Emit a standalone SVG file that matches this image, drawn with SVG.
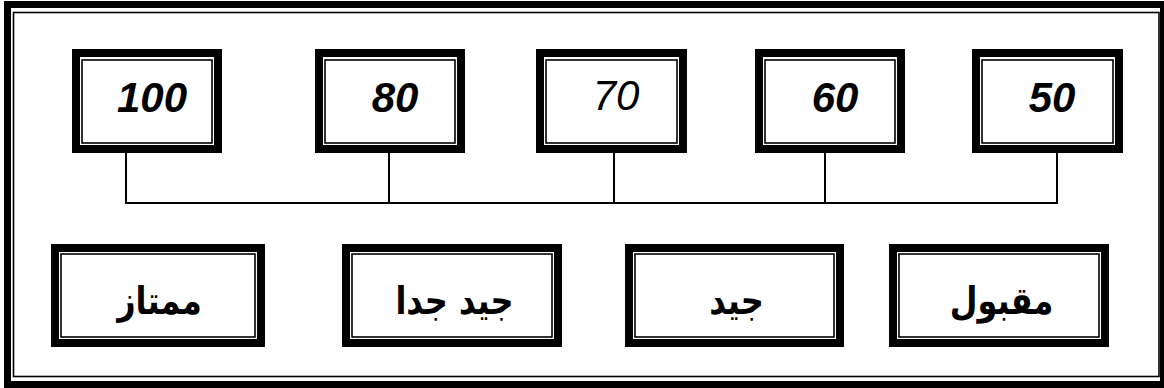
<svg xmlns="http://www.w3.org/2000/svg" width="1164" height="388" viewBox="0 0 1164 388">
<style>
.thick{fill:#fff;stroke:#000;stroke-width:8}
.thin{fill:none;stroke:#000;stroke-width:1.6}
.num{font-family:"Liberation Sans",Arial,sans-serif;font-style:italic;font-size:42px;text-anchor:middle;fill:#000}
.b{font-weight:bold}
.ar{font-family:"DejaVu Sans","Noto Sans",sans-serif;font-weight:bold;font-size:32px;text-anchor:middle;fill:#000}
.conn{fill:none;stroke:#000;stroke-width:2}
</style>
<rect width="1164" height="388" fill="#fff"/>
<g id="frame">
<rect x="7.5" y="4.5" width="1156" height="380" fill="none" stroke="#000" stroke-width="7"/>
<rect x="13.5" y="12.5" width="1145.5" height="364" fill="none" stroke="#000" stroke-width="1.6"/>
</g>
<g id="connectors">
<path class="conn" d="M126 153V203H1057V153M389 153V203M614 153V203M825 153V203"/>
</g>
<g id="n100"><rect class="thick" x="76" y="53" width="142" height="96"/><rect class="thin" x="82" y="60" width="130" height="83"/><text class="num b" x="152" y="112">100</text></g>
<g id="n80"><rect class="thick" x="319" y="53" width="142" height="96"/><rect class="thin" x="325" y="60" width="130" height="83"/><text class="num b" x="395" y="112">80</text></g>
<g id="n70"><rect class="thick" x="540" y="53" width="143" height="96"/><rect class="thin" x="546" y="60" width="131" height="83"/><text class="num" x="616" y="110">70</text></g>
<g id="n60"><rect class="thick" x="759" y="53" width="142" height="96"/><rect class="thin" x="765" y="60" width="130" height="83"/><text class="num b" x="835" y="112">60</text></g>
<g id="n50"><rect class="thick" x="976" y="53" width="143" height="96"/><rect class="thin" x="982" y="60" width="131" height="83"/><text class="num b" x="1052" y="112">50</text></g>
<g id="mumtaz"><rect class="thick" x="55" y="248" width="206" height="95"/><rect class="thin" x="61" y="254" width="194" height="83"/><text class="ar" transform="translate(159.5 314) scale(1 1.2)" direction="rtl">ممتاز</text></g>
<g id="jayyid-jiddan"><rect class="thick" x="346" y="248" width="212" height="95"/><rect class="thin" x="352" y="254" width="200" height="83"/><text class="ar" transform="translate(454.5 314) scale(1 1.2)" direction="rtl">جيد جدا</text></g>
<g id="jayyid"><rect class="thick" x="629" y="248" width="211" height="95"/><rect class="thin" x="635" y="254" width="199" height="83"/><text class="ar" transform="translate(736.5 314) scale(1 1.2)" direction="rtl">جيد</text></g>
<g id="maqbul"><rect class="thick" x="893" y="248" width="212" height="95"/><rect class="thin" x="899" y="254" width="200" height="83"/><text class="ar" transform="translate(1001.5 314) scale(1 1.2)" direction="rtl">مقبول</text></g>
</svg>
